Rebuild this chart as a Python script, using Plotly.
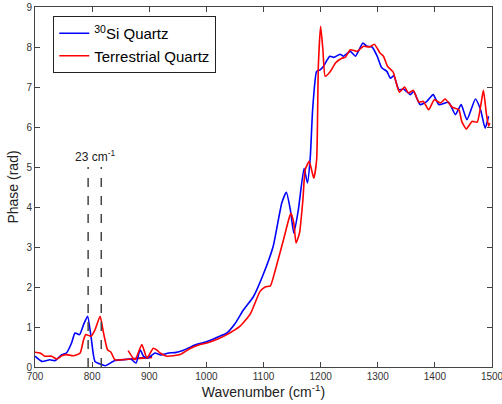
import plotly.graph_objects as go

# 30Si quartz (blue): low-wavenumber segment and main segment
si_x_low = [700, 712, 726, 735, 747, 755, 764, 770, 778, 785, 792, 798, 805, 817, 823, 840, 860, 880, 905]
si_y_low = [0.27, 0.14, 0.18, 0.16, 0.31, 0.35, 0.60, 0.85, 0.81, 1.06, 1.27, 0.77, 0.14, 0.06, 0.03, 0.16, 0.19, 0.22, 0.26]
si_x = [868, 877, 884, 890, 897, 910, 920, 934, 945, 960, 980, 1000, 1020, 1036, 1050, 1065, 1082, 1100,
        1117, 1132, 1140, 1147, 1153, 1161, 1171, 1177, 1182, 1186, 1193, 1199, 1205, 1216, 1223, 1234,
        1240, 1252, 1261, 1274, 1281, 1290, 1299, 1307, 1316, 1322, 1328, 1337, 1345, 1357, 1363, 1374,
        1386, 1397, 1407, 1424, 1436, 1446, 1456, 1471, 1480, 1488, 1494]
si_y = [0.20, 0.10, 0.43, 0.27, 0.22, 0.35, 0.30, 0.35, 0.36, 0.42, 0.55, 0.63, 0.75, 0.85, 1.08, 1.43, 1.75, 2.33,
        3.02, 4.10, 4.37, 3.93, 3.35, 3.93, 4.97, 4.60, 5.27, 6.43, 7.39, 7.43, 7.52, 7.77, 7.74, 7.82,
        7.77, 7.89, 7.77, 8.10, 8.02, 8.00, 7.77, 7.48, 7.39, 7.22, 7.28, 6.93, 6.95, 6.81, 6.89, 6.56,
        6.64, 6.81, 6.56, 6.62, 6.31, 6.56, 6.18, 6.70, 6.43, 5.97, 6.27]

# Terrestrial quartz (red)
terr_x_low = [700, 709, 717, 729, 738, 747, 755, 767, 779, 785, 789, 798, 805, 814, 820, 827, 833, 840, 870, 905]
terr_y_low = [0.37, 0.35, 0.27, 0.27, 0.20, 0.28, 0.31, 0.28, 0.35, 0.68, 0.81, 0.77, 0.93, 1.27, 0.85, 0.43, 0.37, 0.18, 0.20, 0.24]
terr_x = [863, 875, 887, 896, 907, 913, 919, 931, 954, 970, 989, 1001, 1020, 1036, 1059, 1077, 1094, 1103,
          1112, 1120, 1135, 1144, 1148, 1153, 1157, 1163, 1169, 1173, 1180, 1188, 1193, 1196, 1200, 1204,
          1208, 1217, 1226, 1237, 1243, 1252, 1264, 1275, 1286, 1294, 1304, 1310, 1317, 1327, 1334, 1338,
          1347, 1354, 1362, 1372, 1380, 1389, 1399, 1410, 1418, 1430, 1442, 1447, 1455, 1465, 1474, 1481,
          1485, 1490, 1494, 1496]
terr_y = [0.41, 0.18, 0.56, 0.22, 0.47, 0.43, 0.35, 0.27, 0.31, 0.45, 0.56, 0.60, 0.70, 0.81, 1.02, 1.33, 1.89, 2.00,
          2.03, 2.39, 3.18, 3.68, 3.85, 3.60, 3.10, 3.35, 4.18, 4.93, 5.14, 4.72, 5.18, 7.52, 8.52, 7.93,
          7.27, 7.39, 7.60, 7.72, 7.74, 7.93, 7.89, 8.02, 8.00, 8.07, 7.85, 7.77, 7.52, 7.37, 7.02, 6.87,
          7.00, 6.85, 6.92, 6.62, 6.64, 6.43, 6.68, 6.60, 6.70, 6.50, 6.43, 6.14, 5.95, 6.14, 6.12, 6.60,
          6.92, 6.35, 6.02, 6.10]

marker_lines = [793, 816]
marker_top = 5
marker_label = "23 cm<sup>-1</sup>"

x_ticks = [700, 800, 900, 1000, 1100, 1200, 1300, 1400, 1500]
y_ticks = list(range(0, 10))

BLUE = "#0000FF"
RED = "#FF0000"
FONT = "Liberation Sans, Arial, sans-serif"
line_style = dict(width=1.6, shape="spline", smoothing=0.5)

fig = go.Figure()
fig.add_trace(go.Scatter(x=si_x_low, y=si_y_low, mode="lines", line=dict(color=BLUE, **line_style),
                         showlegend=False, hoverinfo="skip"))
fig.add_trace(go.Scatter(x=terr_x_low, y=terr_y_low, mode="lines", line=dict(color=RED, **line_style),
                         showlegend=False, hoverinfo="skip"))
fig.add_trace(go.Scatter(x=si_x, y=si_y, mode="lines", name="<sup>30</sup>Si Quartz",
                         line=dict(color=BLUE, **line_style)))
fig.add_trace(go.Scatter(x=terr_x, y=terr_y, mode="lines", name="Terrestrial Quartz",
                         line=dict(color=RED, **line_style)))

for xv in marker_lines:
    fig.add_shape(type="line", xref="x", yref="y", x0=xv, x1=xv, y0=0, y1=marker_top,
                  line=dict(color="#444444", width=1.5, dash="dash"))
fig.add_annotation(x=sum(marker_lines) / 2, y=marker_top, xref="x", yref="y", text=marker_label,
                   showarrow=False, yanchor="bottom", yshift=1,
                   font=dict(size=12, color="#222222", family=FONT))

axis_common = dict(showline=True, linecolor="#444444", linewidth=1, mirror="allticks",
                   ticks="inside", ticklen=5, tickcolor="#444444", showgrid=False, zeroline=False,
                   ticklabeloverflow="allow",
                   tickfont=dict(size=10, color="#333333", family=FONT))

fig.update_xaxes(range=[700, 1500], tickvals=x_ticks, automargin=False,
                 title=dict(text="Wavenumber (cm<sup>-1</sup>)", standoff=4,
                            font=dict(size=14, color="#222222", family=FONT)),
                 **axis_common)
fig.update_yaxes(range=[0, 9], tickvals=y_ticks, automargin=False,
                 title=dict(text="Phase (rad)", standoff=4,
                            font=dict(size=14, color="#222222", family=FONT)),
                 **axis_common)

fig.update_layout(
    width=502, height=404,
    margin=dict(l=35, r=10, t=7, b=37),
    plot_bgcolor="white", paper_bgcolor="white",
    legend=dict(x=0.04, y=0.975, xanchor="left", yanchor="top", bgcolor="white",
                bordercolor="#222222", borderwidth=1, tracegroupgap=0,
                font=dict(size=15, color="#000000", family=FONT),
                itemwidth=30),
)

fig.write_html("out.html", config={"displayModeBar": False},
               post_script="document.body.style.margin='0';document.body.style.overflow='hidden';")
